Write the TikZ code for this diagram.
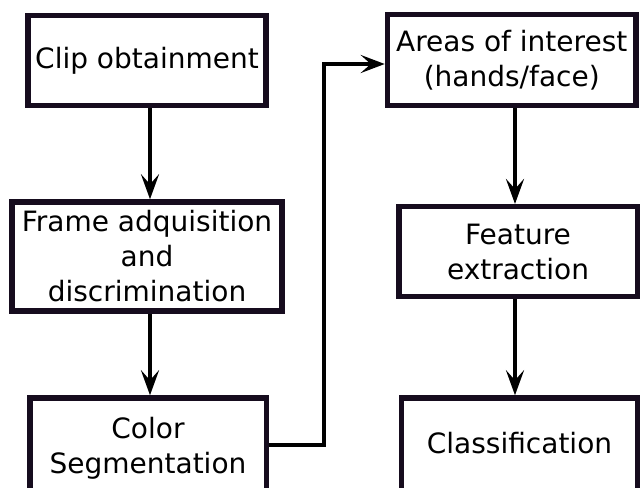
\documentclass[tikz,border=0pt]{standalone}
\usepackage{fontspec}
\setmainfont{DejaVu Sans}
\usetikzlibrary{arrows.meta}
\definecolor{boxc}{RGB}{22,12,30}
\begin{document}
\begin{tikzpicture}[x=1pt,y=-1pt,
  stage/.style={draw=boxc, line width=5.5pt, fill=white, align=center,
    font=\fontsize{28}{35}\selectfont, inner sep=0pt},
  flow/.style={line width=4pt, -{Stealth[length=25pt,width=18pt,inset=10pt]}},
  link/.style={line width=3.5pt, -{Stealth[length=24pt,width=18pt,inset=10pt]}}]
\useasboundingbox (0,0) rectangle (641,488);
\clip (0,0) rectangle (641,488);
\node[stage, minimum width=238pt, minimum height=90pt] (clip) at (147,60.5) {Clip obtainment};
\node[stage, minimum width=270pt, minimum height=109pt] (frame) at (147,256.5) {Frame adquisition\\and\\discrimination};
\node[stage, minimum width=236.5pt, minimum height=101.4pt] (color) at (148,448.7) {Color\\Segmentation};
\node[stage, minimum width=248.5pt, minimum height=91pt] (areas) at (511.75,60) {Areas of interest\\(hands/face)};
\node[stage, minimum width=238.5pt, minimum height=90pt] (feature) at (518,251.7) {Feature\\extraction};
\node[stage, minimum width=236pt, minimum height=104pt, text depth=14.7pt] (class) at (519.5,450) {Classification};
\coordinate (xl) at (150,0);
\coordinate (xr) at (515,0);
\coordinate (turnlow) at (324,445);
\coordinate (turnhigh) at (324,64);
\draw[flow] (clip.south -| xl) -- (frame.north -| xl);
\draw[flow] (frame.south -| xl) -- (color.north -| xl);
\draw[flow] (areas.south -| xr) -- (feature.north -| xr);
\draw[flow] (feature.south -| xr) -- (class.north -| xr);
\draw[link] (color.east |- turnlow) -- (turnlow) -- (turnhigh) -- (areas.west |- turnhigh);
\end{tikzpicture}
\end{document}
